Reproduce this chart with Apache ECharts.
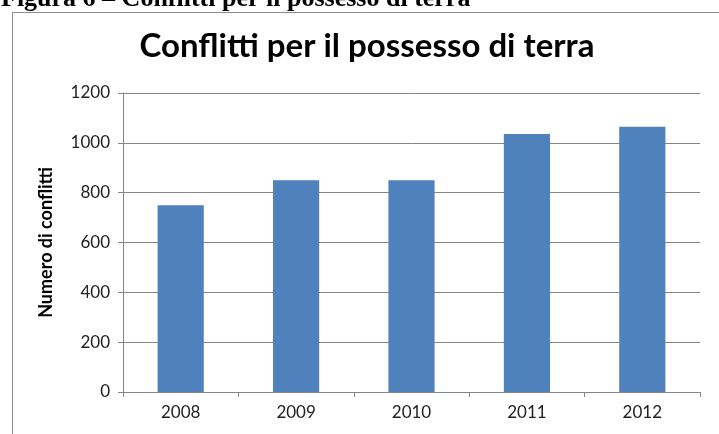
<!DOCTYPE html>
<html>
<head>
<meta charset="utf-8">
<script src="https://cdn.jsdelivr.net/npm/echarts@6/dist/echarts.min.js"></script>
<style>
  html, body { margin: 0; padding: 0; background: #fff; }
  #chart { width: 719px; height: 434px; }
</style>
</head>
<body>
<div id="chart"></div>
<script>
var years = ['2008', '2009', '2010', '2011', '2012'];
var conflitti = [750, 850, 850, 1035, 1065];
var yTicks = [0, 200, 400, 600, 800, 1000, 1200];

var myChart = echarts.init(document.getElementById('chart'));

var option = {
    backgroundColor: '#fff',
    animation: false,
    graphic: [
        // caption of the figure, cut at the top of the page
        {
            type: 'text', x: 1, y: 12,
            style: {
                text: 'Figura 6 \u2013 Conflitti per il possesso di terra',
                font: 'bold 26px "Liberation Serif"',
                fill: '#000',
                verticalAlign: 'bottom'
            }
        },
        // chart frame
        {
            type: 'rect', left: 10, top: 10,
            shape: {width: 730, height: 450},
            style: {fill: 'none', stroke: '#8c8c8c', lineWidth: 1}
        }
    ],
    title: {
        text: 'Conflitti per il possesso di terra',
        left: 362,
        top: 25,
        textAlign: 'center',
        textStyle: {
            fontFamily: 'Lato',
            fontWeight: 'bold',
            fontSize: 33,
            color: '#000'
        }
    },
    grid: {left: 123, right: 19, top: 93, bottom: 42},
    xAxis: {
        type: 'category',
        data: years,
        axisLine: {lineStyle: {color: '#868686'}},
        axisTick: {show: true, length: 5, lineStyle: {color: '#868686'}},
        axisLabel: {
            margin: 12,
            fontFamily: 'Lato',
            fontSize: 17,
            color: '#222'
        }
    },
    yAxis: {
        type: 'value',
        min: yTicks[0],
        max: yTicks[yTicks.length - 1],
        interval: 200,
        name: 'Numero di conflitti',
        nameLocation: 'middle',
        nameGap: 68,
        nameTextStyle: {
            fontFamily: 'Lato',
            fontWeight: 'bold',
            fontSize: 18,
            color: '#000'
        },
        axisLine: {show: true, lineStyle: {color: '#868686'}},
        axisTick: {show: true, length: 5, lineStyle: {color: '#868686'}},
        axisLabel: {
            margin: 13,
            fontFamily: 'Lato',
            fontSize: 17,
            color: '#222',
            formatter: function (v) { return String(v); }
        },
        splitLine: {lineStyle: {color: '#868686'}}
    },
    series: [{
        type: 'bar',
        data: conflitti,
        barWidth: '40%',
        itemStyle: {color: '#4f81bd'}
    }]
};

myChart.setOption(option);
</script>
</body>
</html>
